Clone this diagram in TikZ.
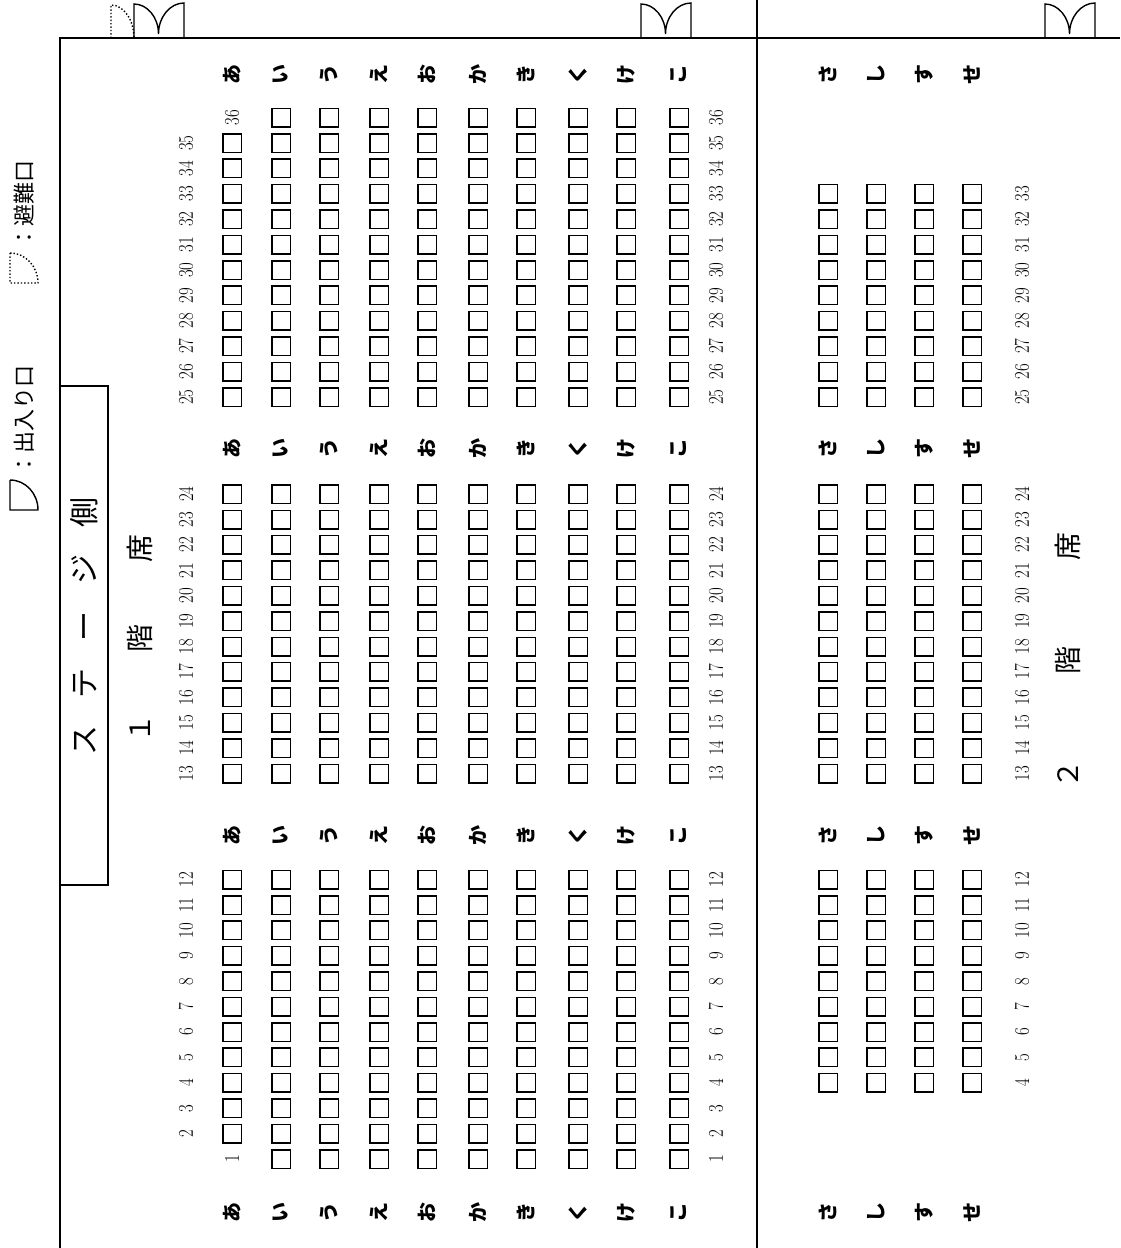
\documentclass[tikz,border=0pt]{standalone}
\usepackage{fontspec}
\newfontfamily\jp{Noto Sans CJK JP}
\pgfmathdeclarefunction{seaty}{1}{%
  \pgfmathparse{ifthenelse(#1<13,1159-(#1-1)*25.4,ifthenelse(#1<25,773.5-(#1-13)*25.4,397-(#1-25)*25.4))}}
\tikzset{
  seat/.style={draw,line width=1.5pt,minimum size=18.5pt,inner sep=0pt},
  num/.style={rotate=90,xscale=0.8,inner sep=0pt,font=\fontsize{21}{21}\selectfont},
  rowlab/.style={rotate=90,inner sep=0pt,font=\jp\bfseries\fontsize{20}{20}\selectfont},
  big/.style={rotate=90,inner sep=0pt,font=\jp\fontsize{28}{28}\selectfont},
  stagetxt/.style={rotate=90,inner sep=0pt,font=\jp\fontsize{30}{30}\selectfont},
  legendtxt/.style={rotate=90,inner sep=0pt,font=\jp\fontsize{22}{22}\selectfont},
  door/.style={line width=1.4pt},
  exitdoor/.style={line width=1.4pt,dotted},
  frame/.style={line width=2pt},
}
\begin{document}
\begin{tikzpicture}[x=1pt,y=-1pt]
\fill[white] (0,0) rectangle (1120,1248);
\useasboundingbox (0,0) rectangle (1120,1248);

% frame
\draw[frame] (60,1248) -- (60,38) -- (1120,38);
\draw[line width=1.5pt] (757,0) -- (757,1248);
\draw[line width=1.5pt] (60,386) rectangle (108,885);

% doors
\foreach \dx in {134,641,1045}{
  \begin{scope}[shift={(\dx,0)}]
    \draw[door] (0,38) -- (0,4) .. controls (13,4) and (24.5,17) .. (24.5,34)
      .. controls (24.5,17) and (36,3) .. (50,3) -- (50,38);
  \end{scope}
}
\draw[exitdoor] (111,38) -- (111,5) .. controls (123.7,5) and (134,19.8) .. (134,38);

% legend
\node[legendtxt] (leg1) at (24,204.5) {：避難口};
\draw[exitdoor] (10,253) -- (10,283) -- (38,283) .. controls (38,266.4) and (25.5,253) .. (10,253);
\node[legendtxt] (leg2) at (24,420) {：出入り口};
\draw[door] (10,480) -- (10,510) -- (38,510) .. controls (38,493.4) and (25.5,480) .. (10,480);

% titles
\node[stagetxt] (stage) at (84,626) {ス\hspace{27pt}テ\hspace{27pt}ー\hspace{27pt}ジ\hspace{27pt}側};
\node[big] (floor1) at (140,638) {１\hspace{62pt}階\hspace{62pt}席};
\node[big] (floor2) at (1068,660) {２\hspace{86pt}階\hspace{86pt}席};

% 1F seats
\foreach \xx [count=\ri from 2] in {281,329,379,427,478,526,578,626,679}{
  \foreach \k in {1,...,36}{
    \node[seat] (a\ri-\k) at (\xx,{seaty(\k)}) {};
  }
}
\foreach \k in {2,...,35}{
  \node[seat] (a1-\k) at (232,{seaty(\k)}) {};
}
\node[num] (a1-1) at (232,{seaty(1)}) {1};
\node[num] (a1-36) at (232,{seaty(36)}) {36};

% 1F row labels
\foreach \xx/\lab [count=\ri] in {232/あ,281/い,329/う,379/え,427/お,478/か,526/き,578/く,626/け,679/こ}{
  \foreach \yy [count=\j] in {74,448,835,1212}{
    \node[rowlab] (la\ri-\j) at (\xx,\yy) {\lab};
  }
}

% 1F seat numbers
\foreach \k in {2,...,35}{
  \node[num] (t-\k) at (186,{seaty(\k)}) {\k};
}
\foreach \k in {1,...,36}{
  \node[num] (b-\k) at (716,{seaty(\k)}) {\k};
}

% 2F seats
\foreach \xx [count=\ri] in {828,876,924,972}{
  \foreach \k in {4,...,33}{
    \node[seat] (c\ri-\k) at (\xx,{seaty(\k)}) {};
  }
}
\foreach \xx/\lab [count=\ri] in {828/さ,876/し,924/す,972/せ}{
  \foreach \yy [count=\j] in {74,448,835,1212}{
    \node[rowlab] (lc\ri-\j) at (\xx,\yy) {\lab};
  }
}
\foreach \k in {4,...,33}{
  \node[num] (n2-\k) at (1022,{seaty(\k)}) {\k};
}
\end{tikzpicture}
\end{document}
